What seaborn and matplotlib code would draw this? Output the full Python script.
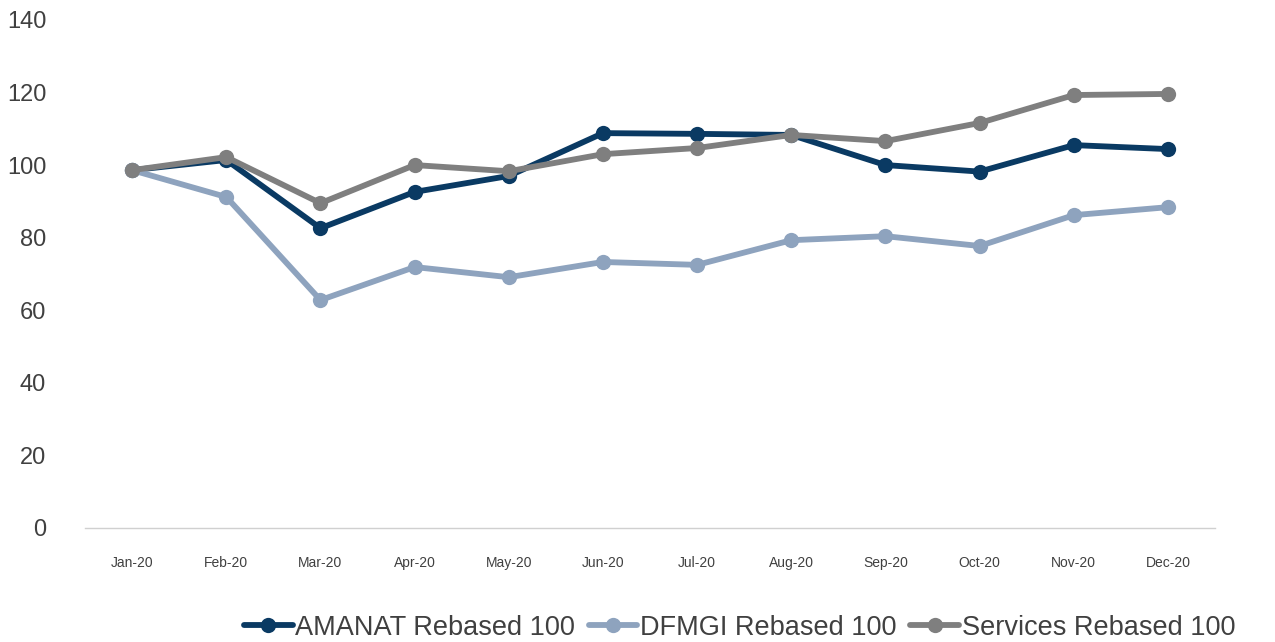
import matplotlib
matplotlib.use("Agg")
import matplotlib.pyplot as plt
import seaborn as sns
import pandas as pd
import numpy as np

months = ["Jan-20", "Feb-20", "Mar-20", "Apr-20", "May-20", "Jun-20",
          "Jul-20", "Aug-20", "Sep-20", "Oct-20", "Nov-20", "Dec-20"]
amanat = [98.6, 101.4, 82.6, 92.6, 97.0, 108.8, 108.6, 108.3, 100.0, 98.2, 105.5, 104.4]
dfmgi = [98.6, 91.2, 62.8, 71.9, 69.1, 73.3, 72.5, 79.3, 80.4, 77.7, 86.2, 88.4]
services = [98.6, 102.2, 89.5, 100.0, 98.3, 103.0, 104.7, 108.3, 106.6, 111.6, 119.3, 119.6]
series_names = ["AMANAT Rebased 100", "DFMGI Rebased 100", "Services Rebased 100"]
yticks = [0, 20, 40, 60, 80, 100, 120, 140]

colors = ["#0A3A63", "#8EA3BE", "#7F7F7F"]

df = pd.concat([
    pd.DataFrame({"month": months, "value": vals, "series": name})
    for name, vals in zip(series_names, [amanat, dfmgi, services])
], ignore_index=True)

sns.set_theme(style="white")
plt.rcParams['font.family'] = ['Liberation Sans', 'DejaVu Sans']

fig = plt.figure(figsize=(12.75, 6.42), dpi=100)
ax = fig.add_axes([0.0667, 0.1776, 0.8863, 0.7914])

sns.lineplot(data=df, x="month", y="value", hue="series", palette=colors,
             sort=False, marker="o", markersize=11, linewidth=4.2,
             markeredgewidth=0, ax=ax, legend=False)

ax.set_ylim(0, 140)
ax.set_yticks(yticks)
ax.set_yticklabels([str(t) for t in yticks], fontsize=17, color="#404040")
ax.set_xlim(-0.5, len(months) - 0.5)
ax.set_xticks(range(len(months)))
ax.set_xticklabels(months, fontsize=10, color="#404040")
ax.set_xticks(np.arange(-0.5, len(months), 1.0), minor=True)
ax.tick_params(axis="x", which="major", length=0, pad=20)
ax.tick_params(axis="x", which="minor", length=6, color="#D0D0D0", width=1)
ax.tick_params(axis="y", length=0, pad=28)
ax.set_xlabel("")
ax.set_ylabel("")
for s in ["top", "right", "left"]:
    ax.spines[s].set_visible(False)
ax.spines["bottom"].set_color("#D0D0D0")
ax.spines["bottom"].set_linewidth(1)
ax.grid(False)

from matplotlib.lines import Line2D
handles = [Line2D([0], [0], color=c, lw=4.2, marker="o", markersize=11, markeredgewidth=0)
           for c in colors]
fig.legend(handles, series_names, loc="center", bbox_to_anchor=(0.58, 0.022),
           ncol=3, frameon=False, fontsize=19.5, handlelength=1.8, handletextpad=0.1,
           columnspacing=0.5, labelcolor="#404040")

fig.savefig("out.png", dpi=100)
